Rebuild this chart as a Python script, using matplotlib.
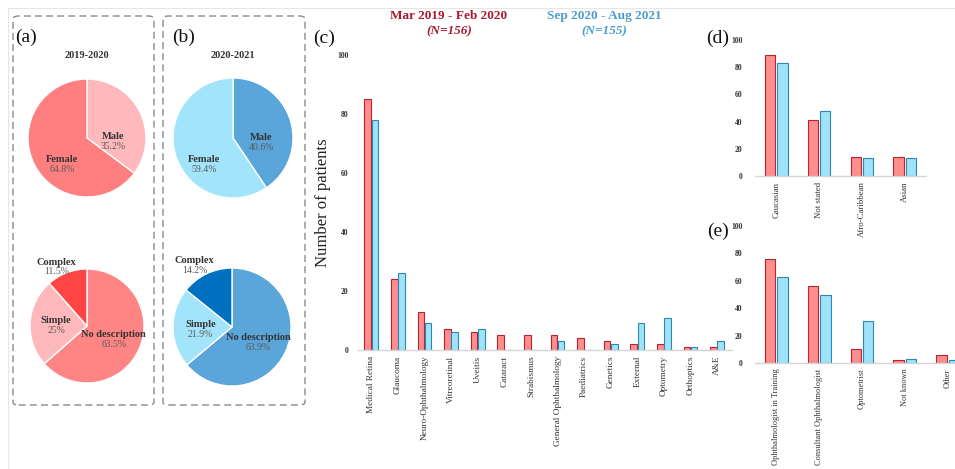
import matplotlib
matplotlib.use("Agg")
import matplotlib.pyplot as plt
from matplotlib.patches import FancyBboxPatch
from matplotlib.lines import Line2D
import numpy as np

W, H = 955, 469

# ---- data ----
sex_labels = ["Male", "Female"]
sex_2019 = [35.2, 64.8]
sex_2020 = [40.6, 59.4]
desc_labels = ["No description", "Simple", "Complex"]
desc_2019 = [63.5, 25.0, 11.5]
desc_2020 = [63.9, 21.9, 14.2]
sex_pct_2019 = ["35.2%", "64.8%"]
sex_pct_2020 = ["40.6%", "59.4%"]
desc_pct_2019 = ["63.5%", "25%", "11.5%"]
desc_pct_2020 = ["63.9%", "21.9%", "14.2%"]

specialties = ["Medical Retina", "Glaucoma", "Neuro-Ophthalmology", "Vitreoretinal",
               "Uveitis", "Cataract", "Strabismus", "General Ophthalmology",
               "Paediatrics", "Genetics", "External", "Optometry", "Orthoptics", "A&E"]
spec_2019 = [85, 24, 13, 7, 6, 5, 5, 5, 4, 3, 2, 2, 1, 1]
spec_2020 = [78, 26, 9, 6, 7, 0, 0, 3, 0, 2, 9, 11, 1, 3]

ethnicity = ["Caucasian", "Not stated", "Afro-Caribbean", "Asian"]
eth_2019 = [89, 41, 14, 14]
eth_2020 = [83, 48, 13, 13]

referrer = ["Ophthalmologist in Training", "Consultant Ophthalmologist",
            "Optometrist", "Not known", "Other"]
ref_2019 = [76, 56, 10, 2, 6]
ref_2020 = [63, 50, 31, 3, 2]

RED_FACE, RED_EDGE = "#ff8e8e", "#b8232f"
BLUE_FACE, BLUE_EDGE = "#9fe3f9", "#2f86b9"

plt.rcParams['font.family'] = ['Liberation Serif', 'DejaVu Serif']

fig = plt.figure(figsize=(W / 100, H / 100), dpi=100)


def px_axes(x0, y0, x1, y1):
    return fig.add_axes([x0 / W, 1 - y1 / H, (x1 - x0) / W, (y1 - y0) / H])


def ftext(x, y, s, **kw):
    fig.text(x / W, 1 - y / H, s, **kw)


# light outer frame
fig.add_artist(Line2D([8 / W, 1], [1 - 8 / H, 1 - 8 / H], color="#e6e6e6", lw=0.8))
fig.add_artist(Line2D([8 / W, 8 / W], [0, 1 - 8 / H], color="#e6e6e6", lw=0.8))

# dashed boxes for (a) and (b)
for x0, x1 in [(13, 154), (163, 305)]:
    box = FancyBboxPatch((x0 / W, 1 - 405 / H), (x1 - x0) / W, (405 - 16) / H,
                         boxstyle="round,pad=0,rounding_size=0.006",
                         transform=fig.transFigure, fill=False,
                         edgecolor="#8a8a8a", lw=1.0, ls=(0, (5, 3)))
    fig.add_artist(box)


def draw_pie(cx, cy, r, values, colors, names, pcts, pos):
    ax = px_axes(cx - r, cy - r, cx + r, cy + r)
    ax.pie(values, colors=colors, startangle=90, counterclock=False, radius=1,
           wedgeprops=dict(edgecolor="white", linewidth=1.0))
    ax.set_xlim(-1, 1)
    ax.set_ylim(-1, 1)
    ax.axis("off")
    for nm, pc, (dx, dy) in zip(names, pcts, pos):
        ax.text(dx, dy + 0.08, nm, ha="center", va="center", fontsize=7.5,
                fontweight="bold", color="#333333")
        ax.text(dx, dy - 0.09, pc, ha="center", va="center", fontsize=7,
                color="#5a5a5a")


draw_pie(87, 138, 59, sex_2019, ["#ffb8bb", "#ff7f80"], sex_labels, sex_pct_2019,
         [(0.44, -0.06), (-0.42, -0.45)])
draw_pie(87, 326, 57, desc_2019, ["#ff8484", "#ffb8bb", "#ff4444"], desc_labels,
         desc_pct_2019, [(0.47, -0.23), (-0.54, 0.01), (-0.54, 1.04)])
draw_pie(233, 138, 60, sex_2020, ["#5aa5d9", "#a2e5fb"], sex_labels, sex_pct_2020,
         [(0.47, -0.07), (-0.48, -0.44)])
draw_pie(232, 327, 59, desc_2020, ["#5aa5d9", "#a2e5fb", "#0070c0"], desc_labels,
         desc_pct_2020, [(0.44, -0.25), (-0.53, -0.03), (-0.63, 1.04)])

ftext(87, 56, "2019-2020", ha="center", va="center", fontsize=7.5, fontweight="bold",
      color="#333333")
ftext(233, 56, "2020-2021", ha="center", va="center", fontsize=7.5, fontweight="bold",
      color="#333333")

# panel letters
for lbl, x, y in [("(a)", 15, 37), ("(b)", 172, 37), ("(c)", 313, 38),
                  ("(d)", 706, 38), ("(e)", 707, 231)]:
    ftext(x, y, lbl, ha="left", va="center", fontsize=14, color="#111111")

# headers
ftext(449, 16, "Mar 2019 - Feb 2020", ha="center", va="center", fontsize=9.5,
      fontweight="bold", color="#a8192c")
ftext(449, 31, "(N=156)", ha="center", va="center", fontsize=9.5,
      fontweight="bold", style="italic", color="#a8192c")
ftext(604, 16, "Sep 2020 - Aug 2021", ha="center", va="center", fontsize=9.5,
      fontweight="bold", color="#4a9ccb")
ftext(604, 31, "(N=155)", ha="center", va="center", fontsize=9.5,
      fontweight="bold", style="italic", color="#4a9ccb")


def draw_bars(ax, cats, v1, v2, width, off, xlim, label_size, tick_pad):
    x = np.arange(len(cats))
    ax.bar(x - off, v1, width, color=RED_FACE, edgecolor=RED_EDGE, linewidth=0.8)
    ax.bar(x + off, v2, width, color=BLUE_FACE, edgecolor=BLUE_EDGE, linewidth=0.8)
    ax.set_xlim(*xlim)
    ax.set_ylim(0, 100)
    ax.set_yticks([0, 20, 40, 60, 80, 100])
    ax.set_xticks(x)
    ax.set_xticklabels(cats, rotation=90, fontsize=label_size, color="#333333")
    for s in ["top", "right", "left"]:
        ax.spines[s].set_visible(False)
    ax.spines["bottom"].set_color("#d6d6d6")
    ax.spines["bottom"].set_linewidth(1.0)
    ax.tick_params(axis="both", length=0)
    ax.tick_params(axis="y", labelsize=5.5, pad=tick_pad, labelcolor="#333333")
    ax.tick_params(axis="x", pad=4)
    for t in ax.get_yticklabels():
        t.set_fontweight("bold")
    ax.patch.set_alpha(0)


axc = px_axes(358, 55, 732, 350)
draw_bars(axc, specialties, spec_2019, spec_2020, 0.25, 0.135, (-0.5, 13.56), 6.7, 7)
axc.set_ylabel("Number of patients", fontsize=12, color="#222222", labelpad=4)

axd = px_axes(755, 40, 926, 176)
draw_bars(axd, ethnicity, eth_2019, eth_2020, 0.24, 0.145, (-0.5, 3.5), 6.3, 9)

axe = px_axes(755, 226, 969, 363)
draw_bars(axe, referrer, ref_2019, ref_2020, 0.24, 0.145, (-0.5, 4.5), 6, 9)

fig.savefig("out.png", dpi=100)
